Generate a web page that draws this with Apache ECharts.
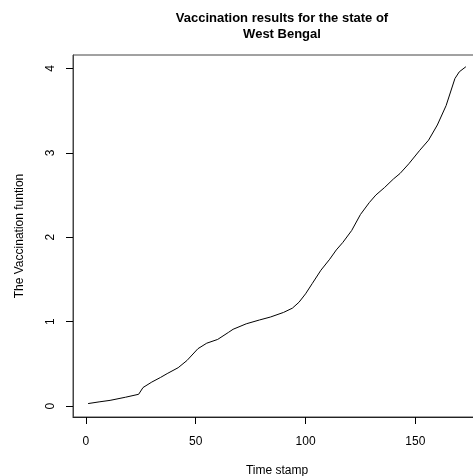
<!DOCTYPE html>
<html>
<head>
<meta charset="utf-8">
<script src="https://cdn.jsdelivr.net/npm/echarts@6/dist/echarts.min.js"></script>
<style>html,body{margin:0;padding:0;background:#fff;}#c{width:473px;height:476px;}</style>
</head>
<body>
<div id="c"></div>
<script>
var timeStamps = [1, 6, 11, 18, 24, 26, 30, 34, 37, 42, 46, 51, 55, 60, 65, 67, 73, 79, 84, 90, 94, 97, 100, 103, 107, 111, 114, 117, 121, 125, 129, 132, 136, 140, 143, 147, 152, 156, 160, 164, 168, 170, 173];
var vaccValues = [0.03, 0.05, 0.068, 0.105, 0.14, 0.22, 0.285, 0.34, 0.385, 0.455, 0.54, 0.68, 0.745, 0.79, 0.875, 0.91, 0.975, 1.02, 1.055, 1.11, 1.16, 1.23, 1.33, 1.45, 1.61, 1.74, 1.85, 1.94, 2.08, 2.27, 2.41, 2.5, 2.59, 2.69, 2.755, 2.87, 3.03, 3.15, 3.33, 3.56, 3.88, 3.96, 4.02];
var xTicks = [0, 50, 100, 150];
var yTicks = [0, 1, 2, 3, 4];

var pts = timeStamps.map(function (t, i) { return [t, vaccValues[i]]; });
var font = 'Liberation Sans, Arial, sans-serif';
var chart = echarts.init(document.getElementById('c'));
chart.setOption({
  animation: false,
  title: {
    text: 'Vaccination results for the state of\nWest Bengal',
    left: 277, top: 5, textAlign: 'center',
    textStyle: { fontFamily: font, fontSize: 13, fontWeight: 'bold', color: '#000', lineHeight: 16 }
  },
  grid: { left: 73, top: 55, width: 408, height: 362, show: true, borderColor: '#444', borderWidth: 1, backgroundColor: 'transparent', containLabel: false, outerBoundsMode: 'none' },
  xAxis: {
    type: 'value', min: -5.88, max: 179.88,
    name: 'Time stamp', nameLocation: 'middle', nameGap: 48,
    nameTextStyle: { fontFamily: font, fontSize: 12, color: '#000' },
    axisLine: { show: true, onZero: false, lineStyle: { color: '#222', width: 1 } },
    splitLine: { show: false },
    axisTick: { show: true, inside: false, length: 7, lineStyle: { color: '#000' }, customValues: xTicks },
    axisLabel: { fontFamily: font, fontSize: 12, color: '#000', margin: 19, customValues: xTicks }
  },
  yAxis: {
    type: 'value', min: -0.129, max: 4.159,
    name: 'The Vaccination funtion', nameLocation: 'middle', nameGap: 47,
    nameTextStyle: { fontFamily: font, fontSize: 12, color: '#000' },
    axisLine: { show: true, onZero: false, lineStyle: { color: '#444', width: 1 } },
    splitLine: { show: false },
    axisTick: { show: true, inside: false, length: 7, lineStyle: { color: '#000' }, customValues: yTicks },
    axisLabel: { fontFamily: font, fontSize: 12, color: '#000', margin: 16, rotate: 90, align: 'center', verticalAlign: 'bottom', customValues: yTicks }
  },
  series: [{
    type: 'line', data: pts, showSymbol: false, symbol: 'none',
    lineStyle: { color: '#000', width: 1 }
  }]
});
</script>
</body>
</html>
